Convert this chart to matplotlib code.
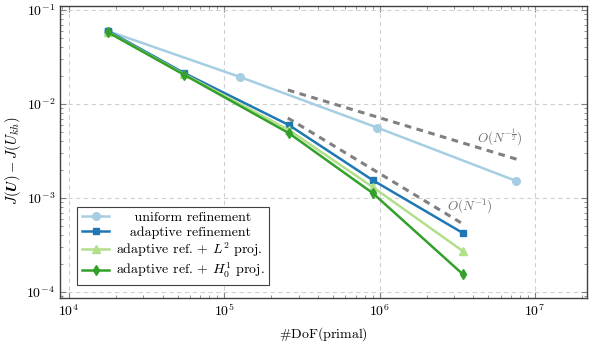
import matplotlib
matplotlib.use("Agg")
import matplotlib.pyplot as plt
import numpy as np

plt.rcParams['font.family'] = ['cmr10']
plt.rcParams['mathtext.fontset'] = 'cm'
plt.rcParams['axes.formatter.use_mathtext'] = True

# data
uni_x = [1.78e4, 1.26e5, 9.66e5, 7.54e6]
uni_y = [0.0598, 0.0194, 0.0056, 0.00152]
ada_x = [1.78e4, 5.5e4, 2.6e5, 9.0e5, 3.42e6]
ada_y = [0.0600, 0.0214, 0.00598, 0.00155, 4.25e-4]
l2_x = [1.78e4, 5.5e4, 2.6e5, 9.0e5, 3.42e6]
l2_y = [0.0585, 0.0208, 0.0053, 0.00131, 2.73e-4]
h1_x = [1.78e4, 5.5e4, 2.6e5, 9.0e5, 3.42e6]
h1_y = [0.0580, 0.0205, 0.0049, 0.00113, 1.55e-4]
ref1_x = [2.56e5, 7.9e6]
ref1_y = [0.0141, 0.0141 * (7.9e6 / 2.56e5) ** -0.5]
ref2_x = [2.56e5, 3.42e6]
ref2_y = [0.0071, 0.0071 * (3.42e6 / 2.56e5) ** -1.0]

labels = ["    uniform refinement", "   adaptive refinement",
          r"adaptive ref. $+$ $L^2$ proj.", r"adaptive ref. $+$ $H_0^1$ proj."]

fig = plt.figure(figsize=(5.89, 3.43), dpi=100)
ax = fig.add_axes([60/589, 45/343, 527/589, 292/343])

c_uni, c_ada, c_l2, c_h1 = '#a6cee3', '#1f78b4', '#b2df8a', '#33a02c'
ax.plot(uni_x, uni_y, '-o', color=c_uni, lw=1.8, ms=5.5, label=labels[0], zorder=3)
ax.plot(ada_x, ada_y, '-s', color=c_ada, lw=1.8, ms=5, label=labels[1], zorder=4)
ax.plot(l2_x, l2_y, '-^', color=c_l2, lw=1.8, ms=5.5, label=labels[2], zorder=4)
ax.plot(h1_x, h1_y, '-d', color=c_h1, lw=1.8, ms=5, label=labels[3], zorder=5)
ax.plot(ref1_x, ref1_y, '--', color='#808080', lw=2.2, dashes=(2.2, 1.8), zorder=2)
ax.plot(ref2_x, ref2_y, '--', color='#808080', lw=2.2, dashes=(2.2, 1.8), zorder=2)

ax.text(5.9e6, 0.00446, r'$O(N^{-\frac{1}{2}})$', color='#707070', fontsize=9.5, ha='center', va='center')
ax.text(3.8e6, 0.00081, r'$O(N^{-1})$', color='#707070', fontsize=9.5, ha='center', va='center')

ax.set_xscale('log')
ax.set_yscale('log')
ax.set_xlim(10**3.942, 10**7.334)
ax.set_ylim(10**-4.064, 10**-0.957)
ax.grid(True, which='major', ls=(0, (4, 3)), color='#d0d0d0', lw=0.8)
ax.tick_params(which='both', direction='in', top=True, right=True, labelsize=10, color='#808080')
ax.tick_params(which='major', length=4)
ax.tick_params(which='minor', length=2.5)
for s in ax.spines.values():
    s.set_color('#404040')
    s.set_linewidth(1.0)
ax.set_xlabel(r'$\#$DoF(primal)', fontsize=10)
ax.set_ylabel(r'$J(\boldsymbol{U}) - J(\boldsymbol{U_{kh}})$', fontsize=10.5)
ax.yaxis.set_label_coords(-0.071, 0.47)

leg = ax.legend(loc='lower left', bbox_to_anchor=(0.02, 0.022), fontsize=10, fancybox=False,
                edgecolor='#404040', framealpha=1, handlelength=2.0, borderpad=0.3,
                labelspacing=0.15, handletextpad=0.5)
leg.get_frame().set_linewidth(0.8)

fig.savefig('out.png', dpi=100)
